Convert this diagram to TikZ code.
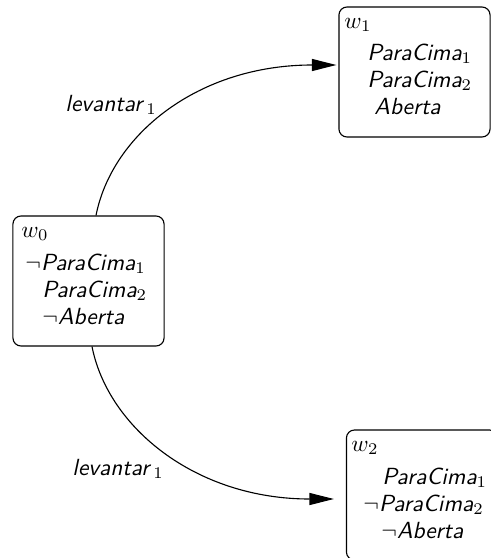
\RequirePackage{fix-cm}
\documentclass[tikz,border=0pt]{standalone}
\usetikzlibrary{arrows.meta,calc}
\begin{document}
\begin{tikzpicture}[x=0.45pt,y=-0.45pt,
  every node/.style={font=\fontsize{10.5}{12.6}\selectfont},
  world/.style={draw,line width=0.5pt,rounded corners=3.6pt,inner sep=0pt,
    minimum width=68pt,minimum height=58.5pt},
  prop/.style={anchor=base west,inner sep=0pt,font=\fontsize{10.5}{12.6}\selectfont\sffamily\slshape},
  wname/.style={anchor=base west,inner sep=0pt},
  act/.style={anchor=west,inner sep=0pt,font=\fontsize{10.5}{12.6}\selectfont\sffamily\slshape},
  trans/.style={line width=0.5pt,-{Triangle[length=11pt,width=5.4pt]}}]
\useasboundingbox (0,0) rectangle (491,558);
\clip (0,0) rectangle (491,558);

% possible worlds
\node[world] (w0) at (88.5,281) {};
\node[world] (w1) at (414.5,72) {};
\node[world] (w2) at (422,495) {};

% world w0
\node[wname] (w0n) at (21,237) {$w_0$};
\node[prop] (w0a) at (25,270) {$\neg$ParaCima$_1$};
\node[prop] (w0b) at (42,297) {ParaCima$_2$};
\node[prop] (w0c) at (42,324) {$\neg$Aberta};

% world w1
\node[wname] (w1n) at (344,28) {$w_1$};
\node[prop] (w1a) at (367,60) {ParaCima$_1$};
\node[prop] (w1b) at (367,87) {ParaCima$_2$};
\node[prop] (w1c) at (374,114) {Aberta};

% world w2
\node[wname] (w2n) at (351,451) {$w_2$};
\node[prop] (w2a) at (382,484) {ParaCima$_1$};
\node[prop] (w2b) at (363,511) {$\neg$ParaCima$_2$};
\node[prop] (w2c) at (381,538) {$\neg$Aberta};

% transitions
\coordinate (s1) at ($(w0.north)+(7.5,0)$);
\coordinate (e1) at ($(w1.west)+(-2,-7)$);
\coordinate (s2) at ($(w0.south)+(3.5,0)$);
\coordinate (e2) at ($(w2.west)+(-12,4)$);
\draw[trans] (s1) .. controls ($(s1)+(16,-81)$) and ($(e1)+(-138,0)$) .. (e1);
\draw[trans] (s2) .. controls ($(s2)+(16,81)$) and ($(e2)+(-138,0)$) .. (e2);

\node[act] (l1) at (65,105) {levantar\,$_1$};
\node[act] (l2) at (72,469) {levantar\,$_1$};
\end{tikzpicture}
\end{document}
